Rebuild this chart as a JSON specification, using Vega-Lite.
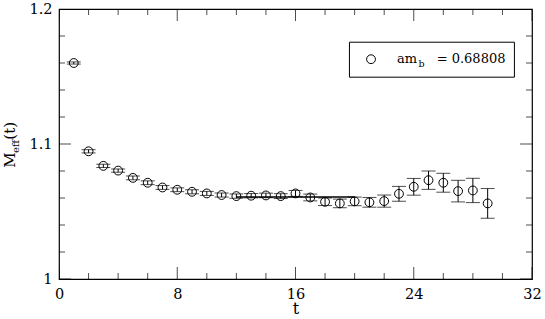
{
  "$schema": "https://vega.github.io/schema/vega-lite/v6.json",
  "width": 473,
  "height": 270,
  "autosize": {"type": "none"},
  "padding": {"left": 59, "top": 9, "right": 13, "bottom": 40},
  "background": "white",
  "config": {
    "view": {"stroke": "black", "strokeWidth": 1.2},
    "axis": {
      "grid": false,
      "domain": false,
      "labelColor": "black",
      "titleColor": "black",
      "labelFont": "DejaVu Serif",
      "titleFont": "DejaVu Serif",
      "labelFontSize": 14.5,
      "titleFontSize": 16,
      "titleFontWeight": "normal",
      "labelFlush": false,
      "labelOverlap": false
    }
  },
  "datasets": {
    "meff": [
      {"t": 1, "m": 1.1600, "lo": 1.1592, "hi": 1.1608},
      {"t": 2, "m": 1.0946, "lo": 1.0934, "hi": 1.0958},
      {"t": 3, "m": 1.0838, "lo": 1.0826, "hi": 1.0850},
      {"t": 4, "m": 1.0803, "lo": 1.0791, "hi": 1.0815},
      {"t": 5, "m": 1.0749, "lo": 1.0735, "hi": 1.0763},
      {"t": 6, "m": 1.0713, "lo": 1.0699, "hi": 1.0727},
      {"t": 7, "m": 1.0678, "lo": 1.0664, "hi": 1.0692},
      {"t": 8, "m": 1.0661, "lo": 1.0647, "hi": 1.0675},
      {"t": 9, "m": 1.0646, "lo": 1.0631, "hi": 1.0661},
      {"t": 10, "m": 1.0634, "lo": 1.0619, "hi": 1.0649},
      {"t": 11, "m": 1.0622, "lo": 1.0607, "hi": 1.0637},
      {"t": 12, "m": 1.0614, "lo": 1.0598, "hi": 1.0630},
      {"t": 13, "m": 1.0617, "lo": 1.0601, "hi": 1.0633},
      {"t": 14, "m": 1.0619, "lo": 1.0602, "hi": 1.0636},
      {"t": 15, "m": 1.0614, "lo": 1.0596, "hi": 1.0632},
      {"t": 16, "m": 1.0634, "lo": 1.0612, "hi": 1.0656},
      {"t": 17, "m": 1.0604, "lo": 1.0579, "hi": 1.0629},
      {"t": 18, "m": 1.0572, "lo": 1.0544, "hi": 1.0600},
      {"t": 19, "m": 1.0560, "lo": 1.0528, "hi": 1.0592},
      {"t": 20, "m": 1.0575, "lo": 1.0543, "hi": 1.0607},
      {"t": 21, "m": 1.0568, "lo": 1.0532, "hi": 1.0604},
      {"t": 22, "m": 1.0577, "lo": 1.0532, "hi": 1.0622},
      {"t": 23, "m": 1.0631, "lo": 1.0576, "hi": 1.0686},
      {"t": 24, "m": 1.0683, "lo": 1.0621, "hi": 1.0745},
      {"t": 25, "m": 1.0732, "lo": 1.0664, "hi": 1.0800},
      {"t": 26, "m": 1.0713, "lo": 1.0643, "hi": 1.0783},
      {"t": 27, "m": 1.0651, "lo": 1.0571, "hi": 1.0731},
      {"t": 28, "m": 1.0656, "lo": 1.0566, "hi": 1.0746},
      {"t": 29, "m": 1.0560, "lo": 1.0450, "hi": 1.0670}
    ],
    "xticks": [
      {"v": 0, "k": "major"}, {"v": 2, "k": "minor"}, {"v": 4, "k": "minor"}, {"v": 6, "k": "minor"},
      {"v": 8, "k": "major"}, {"v": 10, "k": "minor"}, {"v": 12, "k": "minor"}, {"v": 14, "k": "minor"},
      {"v": 16, "k": "major"}, {"v": 18, "k": "minor"}, {"v": 20, "k": "minor"}, {"v": 22, "k": "minor"},
      {"v": 24, "k": "major"}, {"v": 26, "k": "minor"}, {"v": 28, "k": "minor"}, {"v": 30, "k": "minor"},
      {"v": 32, "k": "major"}
    ],
    "yticks": [
      {"v": 1, "k": "major"}, {"v": 1.02, "k": "minor"}, {"v": 1.04, "k": "minor"}, {"v": 1.06, "k": "minor"},
      {"v": 1.08, "k": "minor"}, {"v": 1.1, "k": "major"}, {"v": 1.12, "k": "minor"}, {"v": 1.14, "k": "minor"},
      {"v": 1.16, "k": "minor"}, {"v": 1.18, "k": "minor"}, {"v": 1.2, "k": "major"}
    ]
  },
  "data": {"name": "meff"},
  "layer": [
    {
      "mark": {"type": "point", "opacity": 0},
      "encoding": {
        "x": {"field": "t", "type": "quantitative", "scale": {"domain": [0, 32], "nice": false, "zero": false},
          "axis": {"orient": "bottom", "values": [0, 8, 16, 24, 32], "ticks": false, "tickSize": 0, "labelPadding": 8, "title": "t", "titleBaseline": "alphabetic", "titlePadding": 13}},
        "y": {"field": "m", "type": "quantitative", "scale": {"domain": [1, 1.2], "nice": false, "zero": false},
          "axis": {"orient": "left", "values": [1, 1.1, 1.2], "ticks": false, "tickSize": 0, "labelPadding": 7, "format": "~g", "title": null}}
      }
    },
    {
      "data": {"name": "xticks"},
      "transform": [{"filter": "datum.k === 'major'"}],
      "mark": {"type": "tick", "color": "black", "orient": "vertical", "thickness": 1, "size": 24, "clip": true},
      "encoding": {
        "x": {"field": "v", "type": "quantitative"},
        "y": {"datum": 1, "type": "quantitative"}
      }
    },
    {
      "data": {"name": "xticks"},
      "transform": [{"filter": "datum.k === 'minor'"}],
      "mark": {"type": "tick", "color": "black", "orient": "vertical", "thickness": 1, "size": 12, "clip": true},
      "encoding": {
        "x": {"field": "v", "type": "quantitative"},
        "y": {"datum": 1, "type": "quantitative"}
      }
    },
    {
      "data": {"name": "xticks"},
      "transform": [{"filter": "datum.k === 'major'"}],
      "mark": {"type": "tick", "color": "black", "orient": "vertical", "thickness": 1, "size": 24, "clip": true},
      "encoding": {
        "x": {"field": "v", "type": "quantitative"},
        "y": {"datum": 1.2, "type": "quantitative"}
      }
    },
    {
      "data": {"name": "xticks"},
      "transform": [{"filter": "datum.k === 'minor'"}],
      "mark": {"type": "tick", "color": "black", "orient": "vertical", "thickness": 1, "size": 12, "clip": true},
      "encoding": {
        "x": {"field": "v", "type": "quantitative"},
        "y": {"datum": 1.2, "type": "quantitative"}
      }
    },
    {
      "data": {"name": "yticks"},
      "transform": [{"filter": "datum.k === 'major'"}],
      "mark": {"type": "tick", "color": "black", "orient": "horizontal", "thickness": 1, "size": 24, "clip": true},
      "encoding": {
        "x": {"datum": 0, "type": "quantitative"},
        "y": {"field": "v", "type": "quantitative"}
      }
    },
    {
      "data": {"name": "yticks"},
      "transform": [{"filter": "datum.k === 'minor'"}],
      "mark": {"type": "tick", "color": "black", "orient": "horizontal", "thickness": 1, "size": 12, "clip": true},
      "encoding": {
        "x": {"datum": 0, "type": "quantitative"},
        "y": {"field": "v", "type": "quantitative"}
      }
    },
    {
      "data": {"name": "yticks"},
      "transform": [{"filter": "datum.k === 'major'"}],
      "mark": {"type": "tick", "color": "black", "orient": "horizontal", "thickness": 1, "size": 24, "clip": true},
      "encoding": {
        "x": {"datum": 32, "type": "quantitative"},
        "y": {"field": "v", "type": "quantitative"}
      }
    },
    {
      "data": {"name": "yticks"},
      "transform": [{"filter": "datum.k === 'minor'"}],
      "mark": {"type": "tick", "color": "black", "orient": "horizontal", "thickness": 1, "size": 12, "clip": true},
      "encoding": {
        "x": {"datum": 32, "type": "quantitative"},
        "y": {"field": "v", "type": "quantitative"}
      }
    },
    {
      "data": {"values": [{}]},
      "mark": {"type": "rule", "color": "black", "strokeWidth": 1.5},
      "encoding": {
        "x": {"datum": 12, "type": "quantitative"},
        "x2": {"datum": 20},
        "y": {"datum": 1.0607, "type": "quantitative"}
      }
    },
    {
      "mark": {"type": "rule", "color": "black", "strokeWidth": 1},
      "encoding": {
        "x": {"field": "t", "type": "quantitative"},
        "y": {"field": "lo", "type": "quantitative"},
        "y2": {"field": "hi"}
      }
    },
    {
      "mark": {"type": "tick", "color": "black", "orient": "horizontal", "size": 14, "thickness": 1},
      "encoding": {
        "x": {"field": "t", "type": "quantitative"},
        "y": {"field": "lo", "type": "quantitative"}
      }
    },
    {
      "mark": {"type": "tick", "color": "black", "orient": "horizontal", "size": 14, "thickness": 1},
      "encoding": {
        "x": {"field": "t", "type": "quantitative"},
        "y": {"field": "hi", "type": "quantitative"}
      }
    },
    {
      "mark": {"type": "point", "shape": "circle", "filled": false, "stroke": "black", "strokeWidth": 1, "size": 78, "opacity": 1},
      "encoding": {
        "x": {"field": "t", "type": "quantitative"},
        "y": {"field": "m", "type": "quantitative"}
      }
    },
    {
      "data": {"values": [{}]},
      "mark": {"type": "rect", "fill": "white", "stroke": "black", "strokeWidth": 1},
      "encoding": {
        "x": {"datum": 19.65, "type": "quantitative"},
        "x2": {"datum": 30.81},
        "y": {"datum": 1.1754, "type": "quantitative"},
        "y2": {"datum": 1.1495}
      }
    },
    {
      "data": {"values": [{}]},
      "mark": {"type": "point", "shape": "circle", "filled": false, "stroke": "black", "strokeWidth": 1, "size": 78, "opacity": 1},
      "encoding": {
        "x": {"datum": 21.11, "type": "quantitative"},
        "y": {"datum": 1.1628, "type": "quantitative"}
      }
    },
    {
      "data": {"values": [
        {"px": 22.87, "py": 1.1598, "label": "am"},
        {"px": 25.55, "py": 1.1598, "label": "= 0.68808"}
      ]},
      "mark": {"type": "text", "font": "DejaVu Serif", "fontSize": 13, "align": "left", "baseline": "alphabetic", "color": "black"},
      "encoding": {
        "x": {"field": "px", "type": "quantitative"},
        "y": {"field": "py", "type": "quantitative"},
        "text": {"field": "label"}
      }
    },
    {
      "data": {"values": [
        {"px": 24.32, "py": 1.1568, "label": "b"}
      ]},
      "mark": {"type": "text", "font": "DejaVu Serif", "fontSize": 9.5, "align": "left", "baseline": "alphabetic", "color": "black"},
      "encoding": {
        "x": {"field": "px", "type": "quantitative"},
        "y": {"field": "py", "type": "quantitative"},
        "text": {"field": "label"}
      }
    },
    {
      "data": {"values": [
        {"px": -2.95, "py": 1.0824, "label": "M"},
        {"px": -2.95, "py": 1.1032, "label": "(t)"}
      ]},
      "mark": {"type": "text", "font": "DejaVu Serif", "fontSize": 15, "align": "left", "baseline": "alphabetic", "angle": 270, "color": "black"},
      "encoding": {
        "x": {"field": "px", "type": "quantitative"},
        "y": {"field": "py", "type": "quantitative"},
        "text": {"field": "label"}
      }
    },
    {
      "data": {"values": [
        {"px": -2.72, "py": 1.0934, "label": "eff"}
      ]},
      "mark": {"type": "text", "font": "DejaVu Serif", "fontSize": 10, "align": "left", "baseline": "alphabetic", "angle": 270, "color": "black"},
      "encoding": {
        "x": {"field": "px", "type": "quantitative"},
        "y": {"field": "py", "type": "quantitative"},
        "text": {"field": "label"}
      }
    }
  ]
}
